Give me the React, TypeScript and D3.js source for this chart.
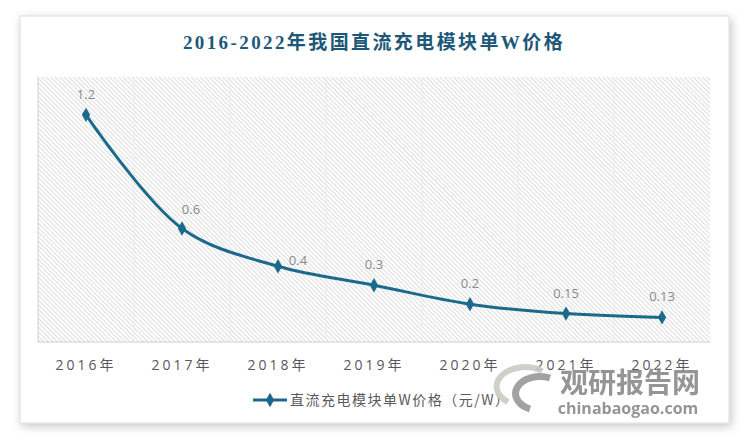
import React from "react";
import * as d3 from "d3";

const categories = ["2016年", "2017年", "2018年", "2019年", "2020年", "2021年", "2022年"];
const values = [1.2, 0.6, 0.4, 0.3, 0.2, 0.15, 0.13];
const valueLabels = ["1.2", "0.6", "0.4", "0.3", "0.2", "0.15", "0.13"];
const yDomain = [0, 1.4];
const title = "2016-2022年我国直流充电模块单W价格";
const legendLabel = "直流充电模块单W价格（元/W）";

const W = 750, H = 441;
const plot = { left: 38, right: 710, top: 77, bottom: 342 };
const lineColor = "#1b6a8c";

export default function App() {
  const x = d3.scaleBand<string>().domain(categories).range([plot.left, plot.right]);
  const y = d3.scaleLinear().domain(yDomain).range([plot.bottom, plot.top]);
  const cx = (i: number) => (x(categories[i]) as number) + x.bandwidth() / 2;
  const line = d3
    .line<number>()
    .x((_, i) => cx(i))
    .y((d) => y(d))
    .curve(d3.curveCatmullRom.alpha(0.5));
  const diamond = d3.symbol().type(d3.symbolDiamond).size(60)() as string;
  const labelOffset = (i: number) => {
    if (i === 1) return { dx: 9, dy: -14 };
    if (i === 2) return { dx: 20, dy: -1 };
    return { dx: 0, dy: -16 };
  };
  const font = "'Open Sans', 'Noto Sans CJK SC', sans-serif";
  const cjk = "'Noto Sans CJK SC', sans-serif";

  return (
    <svg width={W} height={H} style={{ position: "absolute", left: 0, top: 0, background: "#fff" }}>
      <defs>
        <filter id="sh" x="-5%" y="-5%" width="110%" height="115%">
          <feDropShadow dx="2" dy="3" stdDeviation="5" floodColor="#000" floodOpacity="0.22" />
        </filter>
        <pattern id="hatch" width="3.2" height="3.2" patternUnits="userSpaceOnUse" patternTransform="rotate(-45)">
          <rect width="3.2" height="3.2" fill="#fff" />
          <line x1="0.5" y1="0" x2="0.5" y2="3.2" stroke="#dcdcdc" strokeWidth="1" />
        </pattern>
      </defs>
      <rect x={20} y={16} width={709} height={407} fill="#fff" stroke="#dcdcdc" filter="url(#sh)" />
      <text
        x={374}
        y={49}
        textAnchor="middle"
        fill="#1d5878"
        fontFamily="'Liberation Serif', 'Noto Sans CJK SC', serif"
        fontWeight="bold"
        fontSize={19}
        letterSpacing={2.4}
      >
        {title}
      </text>
      <rect x={plot.left} y={plot.top} width={plot.right - plot.left} height={plot.bottom - plot.top} fill="url(#hatch)" />
      {categories.slice(1).map((c) => (
        <line key={c} x1={x(c)} x2={x(c)} y1={plot.top} y2={plot.bottom} stroke="#ececec" strokeWidth={1} />
      ))}
      <line x1={plot.left} x2={plot.left} y1={plot.top} y2={plot.bottom} stroke="#d0d0d0" />
      <line x1={plot.left} x2={plot.right} y1={plot.bottom} y2={plot.bottom} stroke="#d0d0d0" />
      {categories.map((c, i) => (
        <text key={c} x={cx(i)} y={370} textAnchor="middle" fill="#595959" fontFamily={font} fontSize={14} letterSpacing={3}>
          {c}
        </text>
      ))}
      <path d={line(values) as string} fill="none" stroke={lineColor} strokeWidth={3} />
      {values.map((v, i) => (
        <path key={i} d={diamond} transform={`translate(${cx(i)},${y(v)})`} fill={lineColor} />
      ))}
      {values.map((v, i) => {
        const o = labelOffset(i);
        return (
          <text key={i} x={cx(i) + o.dx} y={y(v) + o.dy} textAnchor="middle" fill="#8a8a8a" fontFamily={font} fontSize={13}>
            {valueLabels[i]}
          </text>
        );
      })}
      <line x1={253} x2={287} y1={400} y2={400} stroke={lineColor} strokeWidth={3} />
      <path d={diamond} transform="translate(270,400)" fill={lineColor} />
      <text x={290} y={405} fill="#595959" fontFamily={cjk} fontSize={14} letterSpacing={1.5}>
        {legendLabel}
      </text>
      <g opacity={0.9}>
        <path d="M550,378 A23,16 0 1,0 530,409" fill="none" stroke="#999" strokeWidth={7} />
        <path d="M508,402 A19,13 0 1,1 542,371" fill="none" stroke="#cbcbc5" strokeWidth={6} />
        <text x={630} y={393} textAnchor="middle" fill="#8a8a8a" fontFamily={cjk} fontWeight="bold" fontSize={28}>
          观研报告网
        </text>
        <text x={628} y={414} textAnchor="middle" fill="#8a8a8a" fontFamily={font} fontWeight="bold" fontSize={16}>
          chinabaogao.com
        </text>
      </g>
    </svg>
  );
}
